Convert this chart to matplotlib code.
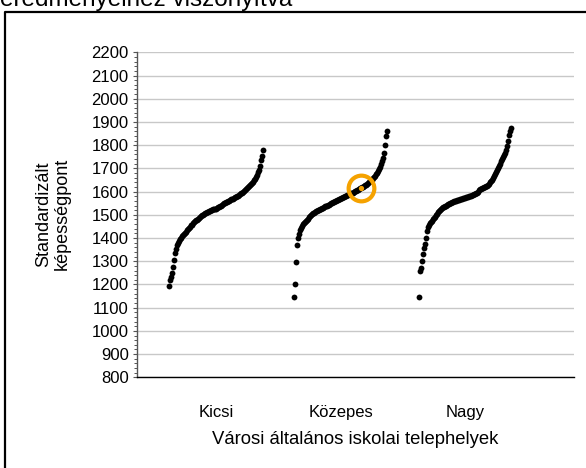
import numpy as np
import matplotlib; matplotlib.use('Agg')
import matplotlib.pyplot as plt
from matplotlib.ticker import MultipleLocator
from matplotlib.lines import Line2D

# Standardised ability scores per school site, sorted (one value per site)
kicsi = [1195, 1218, 1230, 1250, 1275, 1305, 1335, 1352, 1368, 1380,
         1388, 1395, 1401, 1407, 1412, 1418, 1423, 1428, 1433, 1439,
         1444, 1449, 1454, 1458, 1463, 1467, 1472, 1476, 1479, 1483,
         1487, 1490, 1494, 1497, 1500, 1503, 1506, 1508, 1511, 1513,
         1516, 1518, 1520, 1521, 1523, 1524, 1526, 1527, 1529, 1532,
         1535, 1537, 1540, 1544, 1547, 1549, 1552, 1554, 1556, 1559,
         1561, 1564, 1566, 1568, 1570, 1572, 1575, 1577, 1579, 1582,
         1585, 1588, 1592, 1596, 1600, 1604, 1607, 1611, 1616, 1621,
         1624, 1628, 1632, 1637, 1643, 1649, 1655, 1662, 1670, 1683,
         1694, 1712, 1735, 1755, 1780]
kozepes = [1147, 1200, 1295, 1368, 1398, 1418, 1433, 1444, 1452, 1459,
           1465, 1470, 1475, 1479, 1484, 1489, 1493, 1498, 1502, 1506,
           1509, 1512, 1515, 1517, 1520, 1522, 1525, 1527, 1529, 1531,
           1534, 1536, 1538, 1540, 1542, 1544, 1547, 1549, 1551, 1553,
           1556, 1558, 1561, 1563, 1565, 1567, 1569, 1571, 1573, 1575,
           1577, 1580, 1582, 1584, 1586, 1588, 1590, 1592, 1594, 1596,
           1598, 1601, 1603, 1606, 1608, 1611, 1614, 1616, 1619, 1621,
           1624, 1627, 1630, 1633, 1636, 1640, 1644, 1648, 1652, 1657,
           1662, 1668, 1675, 1682, 1690, 1698, 1707, 1717, 1730, 1745,
           1768, 1800, 1840, 1860]
nagy = [1147, 1260, 1272, 1300, 1332, 1355, 1375, 1398, 1432, 1446,
        1456, 1464, 1470, 1475, 1481, 1487, 1492, 1498, 1504, 1510,
        1516, 1521, 1526, 1529, 1532, 1535, 1538, 1540, 1543, 1545,
        1548, 1550, 1552, 1554, 1556, 1558, 1559, 1561, 1562, 1564,
        1565, 1567, 1568, 1570, 1571, 1573, 1574, 1576, 1577, 1578,
        1580, 1581, 1583, 1585, 1587, 1588, 1590, 1592, 1594, 1600,
        1606, 1609, 1612, 1614, 1616, 1618, 1621, 1623, 1626, 1629,
        1634, 1640, 1645, 1651, 1657, 1666, 1675, 1684, 1692, 1700,
        1709, 1718, 1730, 1740, 1750, 1758, 1766, 1780, 1797, 1820,
        1844, 1860, 1873]
groups = ['Kicsi', 'Közepes', 'Nagy']
group_vals = [kicsi, kozepes, nagy]
highlight_group = 1
highlight_rank = 67

plt.rcParams['font.family'] = ['Liberation Sans', 'DejaVu Sans']

W, H = 586, 468
fig = plt.figure(figsize=(W / 100, H / 100), dpi=100)
fig.patch.set_facecolor('white')
ax = fig.add_axes([137 / W, 1 - 377.3 / H, (574 - 137) / W, (377.3 - 52.3) / H])

starts = [32, 157, 282]
centers = []
for st, vals in zip(starts, group_vals):
    x = st + np.arange(len(vals))
    ax.plot(x, vals, 'o', color='black', ms=4.2, mew=0, zorder=3)
    centers.append(x.mean())

# highlighted site
hx = starts[highlight_group] + highlight_rank
hy = group_vals[highlight_group][highlight_rank]
ax.plot([hx], [hy], 'o', color='#F5A200', ms=3.8, mew=0, zorder=5)
ax.plot([hx], [hy], 'o', mfc='none', mec='#F5A200', ms=18.5, mew=3.0, zorder=4)

ax.set_xlim(0, 437)
ax.set_ylim(800, 2200)
ax.yaxis.set_major_locator(MultipleLocator(100))
ax.yaxis.set_minor_locator(MultipleLocator(20))
ax.grid(axis='y', color='#c8c8c8', lw=1.0, zorder=0)
ax.set_axisbelow(True)
for s in ['top', 'right']:
    ax.spines[s].set_visible(False)
ax.spines['left'].set_color('#555555')
ax.spines['left'].set_linewidth(1.0)
ax.spines['bottom'].set_color('black')
ax.spines['bottom'].set_linewidth(1.0)
ax.tick_params(axis='y', which='major', length=3, width=0.8, color='#555555',
               labelsize=12, pad=3)
ax.tick_params(axis='y', which='minor', length=2.5, width=0.7, color='#555555')
ax.set_xticks(centers)
ax.set_xticklabels(groups)
ax.tick_params(axis='x', length=0, labelsize=12, pad=20)
ax.set_xlabel('Városi általános iskolai telephelyek', fontsize=13.3, labelpad=8)

fig.text(53 / W, 1 - 214 / H, 'Standardizált\nképességpont', rotation=90,
         ha='center', va='center', fontsize=13, multialignment='center',
         linespacing=1.1)

# cut-off heading above the frame
fig.text(0, 1 - 6.0 / H, 'eredményeihez viszonyítva', ha='left', va='baseline',
         fontsize=17.5)

# outer frame (left and top edges)
fig.add_artist(Line2D([5 / W, 5 / W, 1.0], [0.0, 1 - 11.5 / H, 1 - 11.5 / H],
                      transform=fig.transFigure, color='black', lw=1.6))

fig.savefig('out.png', dpi=100, facecolor='white')
